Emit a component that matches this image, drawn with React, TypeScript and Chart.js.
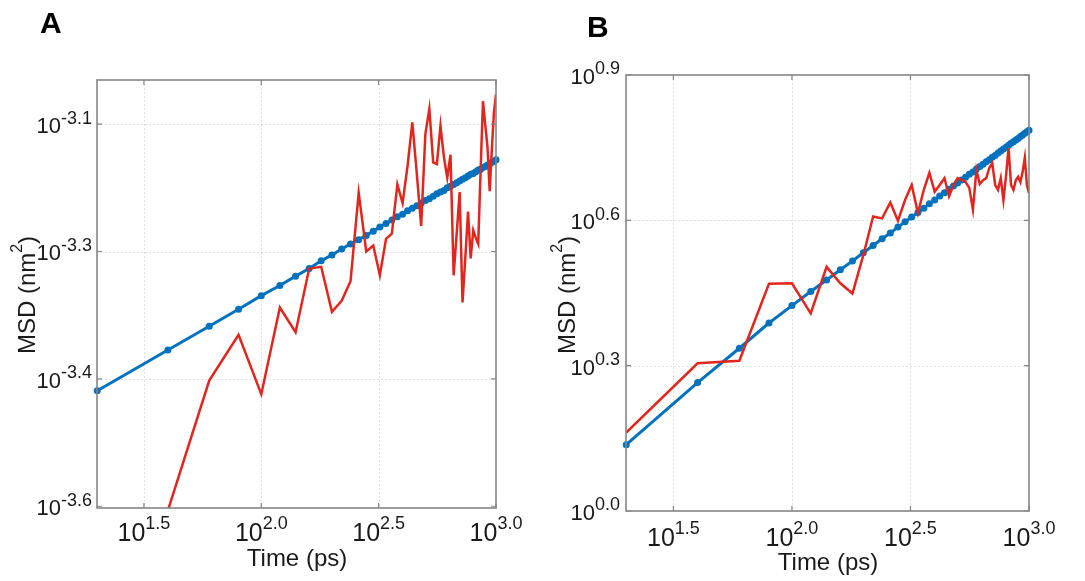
import React, { useEffect, useRef } from "react";
import { Chart, registerables } from "chart.js";

Chart.register(...registerables);

// ---------- DATA ----------
const TIME_PS = [
  20, 40, 60, 80, 100, 120, 140, 160, 180, 200,
  220, 240, 260, 280, 300, 320, 340, 360, 380, 400,
  420, 440, 460, 480, 500, 520, 540, 560, 580, 600,
  620, 640, 660, 680, 700, 720, 740, 760, 780, 800,
  820, 840, 860, 880, 900, 920, 940, 960, 980, 1000,
];

// Panel A: log10(MSD / nm^2)
const A_FIT_LOG10 = [
  -3.464, -3.416, -3.388, -3.368, -3.352, -3.34, -3.329, -3.32, -3.311, -3.304,
  -3.297, -3.291, -3.286, -3.281, -3.276, -3.271, -3.267, -3.263, -3.259, -3.256,
  -3.252, -3.249, -3.246, -3.243, -3.24, -3.238, -3.235, -3.232, -3.23, -3.228,
  -3.225, -3.223, -3.221, -3.219, -3.217, -3.215, -3.213, -3.211, -3.209, -3.208,
  -3.206, -3.204, -3.203, -3.201, -3.2, -3.198, -3.197, -3.195, -3.194, -3.192,
];
const A_MSD_LOG10 = [
  null, -3.605, -3.452, -3.398, -3.468, -3.366, -3.395, -3.32, -3.318, -3.371,
  -3.358, -3.335, -3.231, -3.3, -3.293, -3.328, -3.285, -3.279, -3.221, -3.243,
  -3.199, -3.148, -3.209, -3.27, -3.162, -3.132, -3.195, -3.197, -3.152, -3.189,
  -3.213, -3.186, -3.328, -3.279, -3.23, -3.36, -3.307, -3.253, -3.308, -3.275,
  -3.284, -3.291, -3.204, -3.123, -3.151, -3.177, -3.229, -3.18, -3.136, -3.115,
];

// Panel B: log10(MSD / nm^2)
const B_FIT_LOG10 = [
  0.137, 0.265, 0.336, 0.388, 0.424, 0.453, 0.477, 0.498, 0.516, 0.533,
  0.548, 0.562, 0.574, 0.586, 0.597, 0.607, 0.616, 0.625, 0.634, 0.642,
  0.65, 0.657, 0.664, 0.671, 0.677, 0.683, 0.689, 0.695, 0.7, 0.706,
  0.711, 0.716, 0.721, 0.725, 0.73, 0.734, 0.739, 0.743, 0.747, 0.751,
  0.755, 0.759, 0.762, 0.766, 0.769, 0.773, 0.776, 0.78, 0.783, 0.786,
];
const B_MSD_LOG10 = [
  0.162, 0.305, 0.31, 0.469, 0.47, 0.408, 0.504, 0.47, 0.449, 0.528,
  0.608, 0.604, 0.637, 0.599, 0.642, 0.673, 0.615, 0.663, 0.698, 0.659,
  0.673, 0.687, 0.65, 0.673, 0.687, 0.683, 0.679, 0.667, 0.622, 0.704,
  0.675, 0.683, 0.687, 0.708, 0.718, 0.673, 0.663, 0.687, 0.642, 0.692,
  0.749, 0.673, 0.663, 0.683, 0.69, 0.679, 0.7, 0.729, 0.673, 0.656,
];

// Axes (exponents of 10)
const X_RANGE_EXP = [1.3, 3.0];
const X_TICK_EXP = [1.5, 2.0, 2.5, 3.0];
const X_TICK_LABELS = ["1.5", "2.0", "2.5", "3.0"];

const A_Y_RANGE_EXP = [-3.6, -3.098];
const A_Y_TICK_EXP = [-3.6, -3.45, -3.3, -3.15];
const A_Y_TICK_LABELS = ["-3.6", "-3.4", "-3.3", "-3.1"];

const B_Y_RANGE_EXP = [0.0, 0.9];
const B_Y_TICK_EXP = [0.0, 0.3, 0.6, 0.9];
const B_Y_TICK_LABELS = ["0.0", "0.3", "0.6", "0.9"];

const X_TITLE = "Time (ps)";
const Y_TITLE = ["MSD (nm", "2", ")"];

// ---------- STYLE ----------
const FONT = '"Liberation Sans", Arial, Helvetica, sans-serif';
const BLUE = "#0072BD";
const RED = "#E0261E";
const BOX = "#858585";
const TEXT = "#1a1a1a";
const GRID = "rgba(0,0,0,0.12)";
const H = 581;

type Seg = { text: string; size: number; dy: number; bold?: boolean };

function drawRich(ctx: CanvasRenderingContext2D, segs: Seg[], x: number, y: number, align: string) {
  const widths = segs.map((s) => {
    ctx.font = `${s.bold ? "bold " : ""}${s.size}px ${FONT}`;
    return ctx.measureText(s.text).width;
  });
  const total = widths.reduce((a, b) => a + b, 0);
  let cx = align === "center" ? x - total / 2 : align === "right" ? x - total : x;
  ctx.textAlign = "left";
  ctx.textBaseline = "alphabetic";
  segs.forEach((s, i) => {
    ctx.font = `${s.bold ? "bold " : ""}${s.size}px ${FONT}`;
    ctx.fillText(s.text, cx, y + s.dy + s.size * 0.358);
    cx += widths[i];
  });
}

function makeChart(canvas: HTMLCanvasElement, p: any) {
  const W = canvas.width;
  const decor = {
    id: "decor",
    beforeDatasetsDraw(chart: any) {
      const { ctx, chartArea: a, scales } = chart;
      ctx.save();
      ctx.strokeStyle = GRID;
      ctx.lineWidth = 1;
      ctx.setLineDash([2, 2]);
      X_TICK_EXP.forEach((e) => {
        const x = Math.round(scales.x.getPixelForValue(Math.pow(10, e))) + 0.5;
        if (x > a.right - 2) return;
        ctx.beginPath();
        ctx.moveTo(x, a.top);
        ctx.lineTo(x, a.bottom);
        ctx.stroke();
      });
      p.yTickExp.forEach((e: number) => {
        const y = Math.round(scales.y.getPixelForValue(Math.pow(10, e))) + 0.5;
        if (y > a.bottom - 2 || y < a.top + 2) return;
        ctx.beginPath();
        ctx.moveTo(a.left, y);
        ctx.lineTo(a.right, y);
        ctx.stroke();
      });
      ctx.restore();
    },
    afterDraw(chart: any) {
      const { ctx, chartArea: a, scales } = chart;
      ctx.save();
      ctx.strokeStyle = BOX;
      ctx.lineWidth = 1.6;
      ctx.setLineDash([]);
      ctx.strokeRect(a.left, a.top, a.right - a.left, a.bottom - a.top);
      ctx.lineWidth = 1.2;
      const TL = 5;
      X_TICK_EXP.forEach((e) => {
        const x = scales.x.getPixelForValue(Math.pow(10, e));
        ctx.beginPath();
        ctx.moveTo(x, a.bottom);
        ctx.lineTo(x, a.bottom - TL);
        ctx.moveTo(x, a.top);
        ctx.lineTo(x, a.top + TL);
        ctx.stroke();
      });
      p.yTickExp.forEach((e: number) => {
        const y = scales.y.getPixelForValue(Math.pow(10, e));
        ctx.beginPath();
        ctx.moveTo(a.left, y);
        ctx.lineTo(a.left + TL, y);
        ctx.moveTo(a.right, y);
        ctx.lineTo(a.right - TL, y);
        ctx.stroke();
      });
      ctx.fillStyle = TEXT;
      X_TICK_EXP.forEach((e, i) => {
        const x = scales.x.getPixelForValue(Math.pow(10, e));
        drawRich(
          ctx,
          [
            { text: "10", size: 25, dy: 0 },
            { text: X_TICK_LABELS[i], size: 18, dy: -9 },
          ],
          x,
          p.xLabelY,
          "center"
        );
      });
      p.yTickExp.forEach((e: number, i: number) => {
        const y = scales.y.getPixelForValue(Math.pow(10, e));
        drawRich(
          ctx,
          [
            { text: "10", size: 22, dy: 0 },
            { text: p.yTickLabels[i], size: 18, dy: -8 },
          ],
          p.yLabelRight,
          y + 1,
          "right"
        );
      });
      drawRich(ctx, [{ text: X_TITLE, size: 24, dy: 0 }], p.xTitle[0], p.xTitle[1], "center");
      ctx.save();
      ctx.translate(p.yTitle[0], p.yTitle[1]);
      ctx.rotate(-Math.PI / 2);
      drawRich(
        ctx,
        [
          { text: Y_TITLE[0], size: 24, dy: 0 },
          { text: Y_TITLE[1], size: 16, dy: -10 },
          { text: Y_TITLE[2], size: 24, dy: 0 },
        ],
        0,
        0,
        "center"
      );
      ctx.restore();
      ctx.fillStyle = "#000";
      ctx.font = `bold ${p.letterSize}px ${FONT}`;
      ctx.textAlign = "left";
      ctx.textBaseline = "alphabetic";
      ctx.fillText(p.letter, p.letterPos[0], p.letterPos[1]);
      ctx.restore();
    },
  };

  return new Chart(canvas, {
    type: "line",
    data: {
      datasets: [
        {
          label: "MSD",
          data: TIME_PS.map((t, i) => ({ x: t, y: p.msd[i] == null ? null : Math.pow(10, p.msd[i]) })),
          borderColor: RED,
          backgroundColor: RED,
          borderWidth: 2.5,
          pointRadius: 0,
          tension: 0,
          fill: false,
        },
        {
          label: "Fit",
          data: TIME_PS.map((t, i) => ({ x: t, y: Math.pow(10, p.fit[i]) })),
          borderColor: BLUE,
          backgroundColor: BLUE,
          borderWidth: 3,
          pointRadius: 3.5,
          pointBorderWidth: 0,
          pointBackgroundColor: BLUE,
          tension: 0,
          fill: false,
          clip: false,
        },
      ],
    },
    options: {
      responsive: false,
      animation: false,
      events: [],
      layout: { padding: { left: 0, top: p.area.top, right: W - p.area.right, bottom: 0 } },
      plugins: { legend: { display: false }, tooltip: { enabled: false }, title: { display: false } },
      scales: {
        x: {
          type: "logarithmic",
          min: Math.pow(10, X_RANGE_EXP[0]),
          max: Math.pow(10, X_RANGE_EXP[1]),
          grid: { display: false },
          border: { display: false },
          ticks: { display: false },
          afterBuildTicks: (s: any) => {
            s.ticks = X_TICK_EXP.map((e) => ({ value: Math.pow(10, e) }));
          },
          afterFit: (s: any) => {
            s.height = H - p.area.bottom;
          },
        },
        y: {
          type: "logarithmic",
          min: Math.pow(10, p.yRange[0]),
          max: Math.pow(10, p.yRange[1]),
          grid: { display: false },
          border: { display: false },
          ticks: { display: false },
          afterBuildTicks: (s: any) => {
            s.ticks = p.yTickExp.map((e: number) => ({ value: Math.pow(10, e) }));
          },
          afterFit: (s: any) => {
            s.width = p.area.left;
          },
        },
      },
    },
    plugins: [decor],
  } as any);
}

const PANEL_A = {
  fit: A_FIT_LOG10,
  msd: A_MSD_LOG10,
  yRange: A_Y_RANGE_EXP,
  yTickExp: A_Y_TICK_EXP,
  yTickLabels: A_Y_TICK_LABELS,
  area: { left: 97, right: 496, top: 80, bottom: 508 },
  xLabelY: 532,
  yLabelRight: 92,
  xTitle: [297, 557],
  yTitle: [26, 295],
  letter: "A",
  letterSize: 30,
  letterPos: [40, 33],
};

const PANEL_B = {
  fit: B_FIT_LOG10,
  msd: B_MSD_LOG10,
  yRange: B_Y_RANGE_EXP,
  yTickExp: B_Y_TICK_EXP,
  yTickLabels: B_Y_TICK_LABELS,
  area: { left: 86, right: 489, top: 75, bottom: 511 },
  xLabelY: 537,
  yLabelRight: 80,
  xTitle: [288, 561],
  yTitle: [26, 295],
  letter: "B",
  letterSize: 30,
  letterPos: [47, 37],
};

export default function App() {
  const refA = useRef<HTMLCanvasElement>(null);
  const refB = useRef<HTMLCanvasElement>(null);
  useEffect(() => {
    const a = makeChart(refA.current as HTMLCanvasElement, PANEL_A);
    const b = makeChart(refB.current as HTMLCanvasElement, PANEL_B);
    return () => {
      a.destroy();
      b.destroy();
    };
  }, []);
  return (
    <div style={{ position: "fixed", left: 0, top: 0, width: 1085, height: 581, background: "#fff" }}>
      <canvas ref={refA} width={540} height={581} style={{ position: "absolute", left: 0, top: 0 }} />
      <canvas ref={refB} width={545} height={581} style={{ position: "absolute", left: 540, top: 0 }} />
    </div>
  );
}
